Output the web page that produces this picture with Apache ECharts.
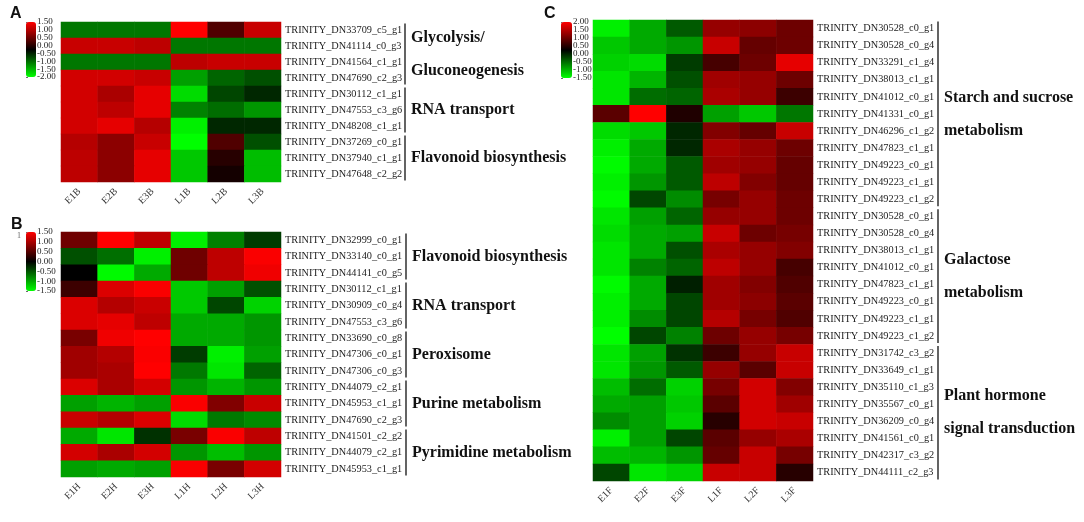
<!DOCTYPE html>
<html><head><meta charset="utf-8">
<script src="https://cdn.jsdelivr.net/npm/echarts/dist/echarts.min.js"></script>
<style>html,body{margin:0;padding:0;background:#fff}#c{width:1084px;height:522px}</style>
</head><body><div id="c"></div>
<script>
// ---------- Panel A ----------
const colsA = ['E1B','E2B','E3B','L1B','L2B','L3B'];
const genesA = ['TRINITY_DN33709_c5_g1','TRINITY_DN41114_c0_g3','TRINITY_DN41564_c1_g1','TRINITY_DN47690_c2_g3','TRINITY_DN30112_c1_g1','TRINITY_DN47553_c3_g6','TRINITY_DN48208_c1_g1','TRINITY_DN37269_c0_g1','TRINITY_DN37940_c1_g1','TRINITY_DN47648_c2_g2'];
const valuesA = [
  [-1.07,-1.07,-1.07, 1.50, 0.30, 1.12],
  [ 1.12, 1.12, 1.05,-1.07,-1.07,-1.07],
  [-1.07,-1.07,-1.07, 1.05, 1.12, 1.12],
  [ 1.19, 1.19, 1.12,-1.35,-0.94,-0.80],
  [ 1.19, 0.92, 1.33,-1.76,-0.73,-0.52],
  [ 1.19, 1.05, 1.33,-1.14,-1.00,-1.28],
  [ 1.19, 1.33, 0.99,-1.90,-0.52,-0.52],
  [ 0.99, 0.71, 1.12,-2.00, 0.30,-0.80],
  [ 1.05, 0.71, 1.33,-1.62, 0.02,-1.55],
  [ 1.05, 0.71, 1.33,-1.62,-0.11,-1.55]
];
const rangeA = [-2.0, 1.5];
const groupNamesA = ['Glycolysis/\nGluconeogenesis','RNA transport','Flavonoid biosynthesis'];
const groupStartA = [0,4,7];
const groupEndA = [3,6,9];

// ---------- Panel B ----------
const colsB = ['E1H','E2H','E3H','L1H','L2H','L3H'];
const genesB = ['TRINITY_DN32999_c0_g1','TRINITY_DN33140_c0_g1','TRINITY_DN44141_c0_g5','TRINITY_DN30112_c1_g1','TRINITY_DN30909_c0_g4','TRINITY_DN47553_c3_g6','TRINITY_DN33690_c0_g8','TRINITY_DN47306_c0_g1','TRINITY_DN47306_c0_g3','TRINITY_DN44079_c2_g1','TRINITY_DN45953_c1_g1','TRINITY_DN47690_c2_g3','TRINITY_DN41501_c2_g2','TRINITY_DN44079_c2_g1','TRINITY_DN45953_c1_g1'];
const valuesB = [
  [ 0.65, 1.50, 1.12,-1.41,-0.76,-0.35],
  [-0.47,-0.65,-1.41, 0.65, 1.12, 1.47],
  [ 0.00,-1.47,-1.00, 0.65, 1.12, 1.41],
  [ 0.35, 1.29, 1.47,-1.18,-0.94,-0.47],
  [ 1.29, 1.06, 1.18,-1.18,-0.41,-1.24],
  [ 1.29, 1.35, 1.12,-1.00,-1.00,-0.88],
  [ 0.71, 1.41, 1.50,-1.00,-1.00,-0.88],
  [ 0.94, 1.06, 1.47,-0.35,-1.41,-0.94],
  [ 0.94, 1.00, 1.50,-0.71,-1.35,-0.59],
  [ 1.29, 1.00, 1.24,-0.88,-1.06,-0.88],
  [-0.94,-1.06,-0.94, 1.47, 0.76, 1.18],
  [ 1.18, 1.06, 1.29,-1.29,-0.71,-0.82],
  [-1.00,-1.35,-0.29, 0.71, 1.47, 1.12],
  [ 1.24, 1.00, 1.24,-0.88,-1.12,-0.88],
  [-0.94,-1.00,-0.94, 1.47, 0.71, 1.24]
];
const rangeB = [-1.5, 1.5];
const groupNamesB = ['Flavonoid biosynthesis','RNA transport','Peroxisome','Purine metabolism','Pyrimidine metabolism'];
const groupStartB = [0,3,6,9,12];
const groupEndB = [2,5,8,11,14];

// ---------- Panel C ----------
const colsC = ['E1F','E2F','E3F','L1F','L2F','L3F'];
const genesC = ['TRINITY_DN30528_c0_g1','TRINITY_DN30528_c0_g4','TRINITY_DN33291_c1_g4','TRINITY_DN38013_c1_g1','TRINITY_DN41012_c0_g1','TRINITY_DN41331_c0_g1','TRINITY_DN46296_c1_g2','TRINITY_DN47823_c1_g1','TRINITY_DN49223_c0_g1','TRINITY_DN49223_c1_g1','TRINITY_DN49223_c1_g2','TRINITY_DN30528_c0_g1','TRINITY_DN30528_c0_g4','TRINITY_DN38013_c1_g1','TRINITY_DN41012_c0_g1','TRINITY_DN47823_c1_g1','TRINITY_DN49223_c0_g1','TRINITY_DN49223_c1_g1','TRINITY_DN49223_c1_g2','TRINITY_DN31742_c3_g2','TRINITY_DN33649_c1_g1','TRINITY_DN35110_c1_g3','TRINITY_DN35567_c0_g1','TRINITY_DN36209_c0_g4','TRINITY_DN41561_c0_g1','TRINITY_DN42317_c3_g2','TRINITY_DN44111_c2_g3'];
const valuesC = [
  [-1.40,-0.92,-0.37, 1.28, 1.21, 1.00],
  [-1.12,-0.92,-0.78, 1.62, 0.94, 1.00],
  [-1.19,-1.26,-0.16, 0.73, 1.00, 1.83],
  [-1.33,-0.99,-0.30, 1.35, 1.28, 1.00],
  [-1.33,-0.50,-0.44, 1.42, 1.28, 0.66],
  [ 0.87, 2.00, 0.46,-0.85,-1.12,-0.57],
  [-1.26,-1.12,-0.02, 1.14, 0.94, 1.62],
  [-1.40,-0.92,-0.02, 1.42, 1.28, 1.00],
  [-1.47,-0.92,-0.37, 1.35, 1.28, 0.94],
  [-1.40,-0.78,-0.37, 1.55, 1.14, 0.94],
  [-1.47,-0.23,-0.71, 1.07, 1.28, 1.00],
  [-1.33,-0.85,-0.44, 1.28, 1.28, 1.00],
  [-1.26,-0.92,-0.85, 1.62, 1.00, 1.07],
  [-1.33,-0.92,-0.30, 1.42, 1.28, 1.14],
  [-1.33,-0.64,-0.44, 1.55, 1.28, 0.73],
  [-1.47,-0.92, 0.04, 1.35, 1.14, 0.80],
  [-1.40,-0.92,-0.23, 1.35, 1.21, 0.87],
  [-1.40,-0.71,-0.23, 1.49, 1.07, 0.80],
  [-1.50,-0.23,-0.64, 1.00, 1.28, 1.07],
  [-1.33,-0.85,-0.09, 0.66, 1.28, 1.62],
  [-1.33,-0.78,-0.37, 1.28, 0.87, 1.62],
  [-1.05,-0.50,-1.19, 1.07, 1.69, 1.14],
  [-0.92,-0.85,-1.12, 0.87, 1.69, 1.35],
  [-0.71,-0.85,-1.19, 0.52, 1.69, 1.62],
  [-1.40,-0.85,-0.23, 0.87, 1.28, 1.42],
  [-1.05,-0.99,-0.78, 0.94, 1.62, 1.07],
  [-0.23,-1.33,-1.19, 1.62, 1.62, 0.52]
];
const rangeC = [-1.5, 2.0];
const groupNamesC = ['Starch and sucrose\nmetabolism','Galactose\nmetabolism','Plant hormone\nsignal transduction'];
const groupStartC = [0,11,19];
const groupEndC = [10,18,26];

// ---------- build ----------
const SERIF = '"Liberation Serif","Times New Roman",serif';
const panels = [
  {cols:colsA, genes:genesA, vals:valuesA, range:rangeA, gN:groupNamesA, gS:groupStartA, gE:groupEndA,
   hm:{left:61, top:22, width:220, height:160}, cb:{left:26, top:22, width:10, height:55}, br:{left:405, width:140}},
  {cols:colsB, genes:genesB, vals:valuesB, range:rangeB, gN:groupNamesB, gS:groupStartB, gE:groupEndB,
   hm:{left:61, top:232, width:220, height:245}, cb:{left:26, top:232, width:10, height:59}, br:{left:406, width:170}},
  {cols:colsC, genes:genesC, vals:valuesC, range:rangeC, gN:groupNamesC, gS:groupStartC, gE:groupEndC,
   hm:{left:593, top:20, width:220, height:461}, cb:{left:561, top:22, width:11, height:56}, br:{left:938, width:140}}
];

const grid = [], xAxis = [], yAxis = [], series = [], visualMap = [];
panels.forEach((p, i) => {
  const gHm = grid.length;
  grid.push({left:p.hm.left, top:p.hm.top, width:p.hm.width, height:p.hm.height, containLabel:false});
  xAxis.push({type:'category', gridIndex:gHm, data:p.cols, axisLine:{show:false}, axisTick:{show:false}, splitArea:{show:false},
    axisLabel:{rotate:45, fontSize:10, fontFamily:SERIF, color:'#333', margin:8, interval:0}});
  yAxis.push({type:'category', gridIndex:gHm, data:p.genes, inverse:true, position:'right', axisLine:{show:false}, axisTick:{show:false},
    axisLabel:{fontSize:10.3, fontFamily:SERIF, color:'#222', margin:4, interval:0}});
  const data = [];
  p.vals.forEach((row, r) => row.forEach((v, c) => data.push([c, r, v])));
  const sIdx = series.length;
  series.push({type:'heatmap', xAxisIndex:gHm, yAxisIndex:gHm, data, itemStyle:{borderWidth:0}, emphasis:{disabled:true}, progressive:0});
  visualMap.push({type:'continuous', seriesIndex:sIdx, min:p.range[0], max:p.range[1], calculable:false, orient:'vertical',
    left:p.cb.left, top:p.cb.top, itemWidth:p.cb.width, itemHeight:p.cb.height, padding:0, text:null, showLabel:false,
    inRange:{color:['#00ff00','#000000','#ff0000']}, hoverLink:false});

  // colour-bar tick labels (category axis so every tick label is kept)
  const ticks = [];
  for (let v = p.range[0]; v <= p.range[1] + 1e-9; v += 0.5) ticks.push(v.toFixed(2));
  const gCb = grid.length;
  grid.push({left:p.cb.left, top:p.cb.top, width:p.cb.width, height:p.cb.height});
  xAxis.push({type:'value', gridIndex:gCb, show:false, min:0, max:1});
  yAxis.push({type:'category', gridIndex:gCb, position:'right', data:ticks, boundaryGap:false,
    axisLine:{show:false}, axisTick:{show:true, length:2, interval:0, lineStyle:{color:'#444', width:0.8}}, splitLine:{show:false},
    axisLabel:{fontSize:9, fontFamily:SERIF, color:'#222', margin:1, interval:0}});

  const gBr = grid.length;
  grid.push({left:p.br.left, top:p.hm.top, width:p.br.width, height:p.hm.height});
  xAxis.push({type:'value', gridIndex:gBr, show:false, min:0, max:1});
  yAxis.push({type:'category', gridIndex:gBr, show:false, data:p.genes, inverse:true});
  const names = p.gN;
  series.push({type:'custom', xAxisIndex:gBr, yAxisIndex:gBr, silent:true, clip:false,
    data:p.gS.map((s, k) => [s, p.gE[k]]),
    encode:{x:-1, y:[0,1]},
    renderItem:(params, api) => {
      const s = api.value(0), e = api.value(1);
      const h = api.size([0, 1])[1];
      const p0 = api.coord([0, s]), p1 = api.coord([0, e]);
      const top = p0[1] - h / 2 + 1.5, bot = p1[1] + h / 2 - 1.5;
      return {type:'group', children:[
        {type:'line', shape:{x1:p0[0], y1:top, x2:p0[0], y2:bot}, style:{stroke:'#222', lineWidth:1.4}},
        {type:'text', x:p0[0] + 6, y:(top + bot) / 2,
         style:{text:names[params.dataIndex], font:'bold 16px ' + SERIF, fill:'#111', align:'left', verticalAlign:'middle', lineHeight:33}}
      ]};
    }});
});

const chart = echarts.init(document.getElementById('c'), null, {renderer:'canvas'});
chart.setOption({
  backgroundColor:'#ffffff',
  animation:false,
  title:[
    {text:'A', left:10, top:6, padding:0, textStyle:{fontSize:16, fontWeight:'bold', fontFamily:'"Liberation Sans",Arial,sans-serif', color:'#111'}},
    {text:'B', left:11, top:217, padding:0, textStyle:{fontSize:16, fontWeight:'bold', fontFamily:'"Liberation Sans",Arial,sans-serif', color:'#111'}},
    {text:'C', left:544, top:6, padding:0, textStyle:{fontSize:16, fontWeight:'bold', fontFamily:'"Liberation Sans",Arial,sans-serif', color:'#111'}}
  ],
  graphic:[{type:'text', left:17, top:232, style:{text:'1', font:'8px ' + SERIF, fill:'#666'}}],
  grid, xAxis, yAxis, visualMap, series
});
</script></body></html>
